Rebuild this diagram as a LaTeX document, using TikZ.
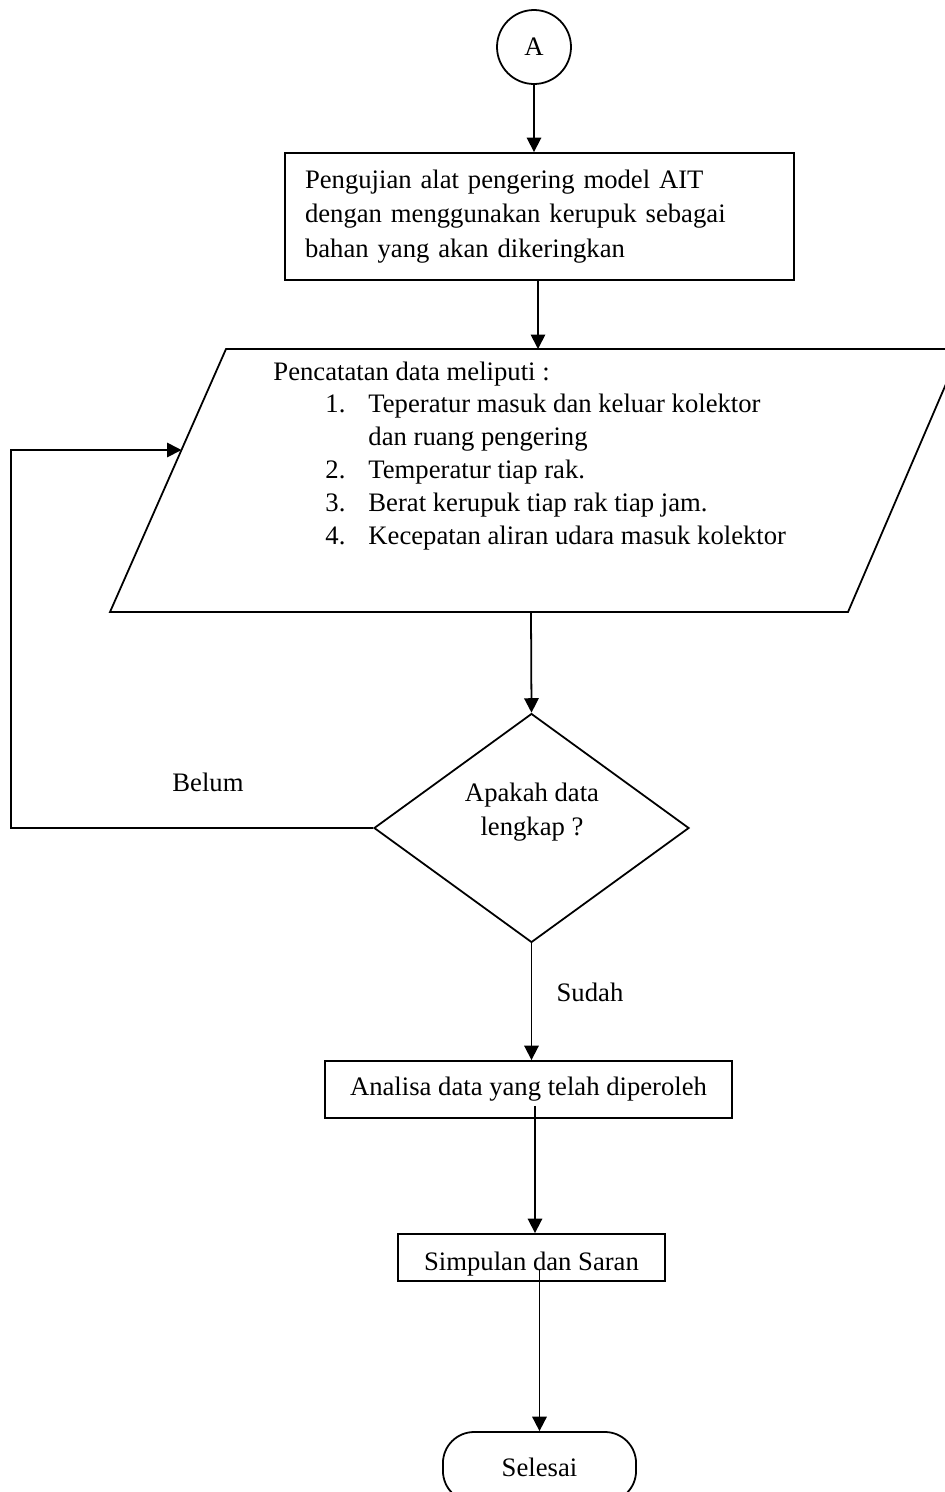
\documentclass[tikz,border=0pt]{standalone}
\usepackage{fontspec}
\setmainfont{Liberation Serif}
\usetikzlibrary{shapes.geometric, arrows.meta, calc, positioning}

\tikzset{
  flowline/.style={line width=0.8pt},
  flowarrow/.style={flowline, -{Triangle[length=6.5pt,width=6.5pt]}},
  prosesbox/.style={draw, line width=0.8pt, fill=white, rectangle, inner sep=0pt},
  listline/.style={anchor=west, inner sep=0pt, text height=8.5pt, text depth=2.5pt},
}

\begin{document}
\begin{tikzpicture}[x=0.45pt, y=-0.45pt, font=\fontsize{12}{15.5}\selectfont]
  % fixed frame of the page
  \path[use as bounding box] (0,0) rectangle (945,1492);

  % connector A
  \node[circle, draw, line width=0.8pt, minimum size=33.3pt, inner sep=0pt] (konektor) at (534,47) {A};

  % first process box
  \node[prosesbox, minimum width=229pt, minimum height=57.2pt, align=left, text width=211pt] (uji) at (539.5,216.5)
    {Pengujian alat pengering model AIT\\dengan menggunakan kerupuk sebagai\\bahan yang akan dikeringkan};

  % data input (parallelogram, right corner runs off the page)
  \draw[flowline] (226,349) -- (961,349) -- (848,612) -- (110,612) -- cycle;
  \coordinate (paratop) at (538,349);
  \coordinate (parabot) at (531,612);
  \coordinate (parakiri) at (181.5,450);
  \coordinate (lup) at (11,450);

  \node[listline] (judul) at (273,374) {Pencatatan data meliputi :};
  \foreach \nm/\yy/\no/\isi in {a/406/1./Teperatur masuk dan keluar kolektor,
      b/472/2./Temperatur tiap rak.,
      c/505/3./Berat kerupuk tiap rak tiap jam.,
      d/538/4./Kecepatan aliran udara masuk kolektor} {
    \node[listline] (no\nm) at (325,\yy) {\no};
    \node[listline] (isi\nm) at (368,\yy) {\isi};
  }
  \node[listline] (isia2) at (368,439) {dan ruang pengering};

  % decision
  \node[diamond, draw, line width=0.8pt, minimum width=141.75pt, minimum height=103pt, inner sep=0pt] (cek) at (531.5,828) {};
  \node[align=center, inner sep=0pt] (cektxt) at (532,812) {Apakah data\\lengkap ?};
  \node (belum) at (208,782) {Belum};
  \node (sudah) at (590,992) {Sudah};

  % analysis and conclusion
  \node[prosesbox, minimum width=183.2pt, minimum height=25.7pt] (analisa) at (528.5,1089.5) {Analisa data yang telah diperoleh};
  \node[prosesbox, minimum width=120.2pt, minimum height=21.2pt, text height=12pt, text depth=0pt] (simpulan) at (531.5,1257.5) {Simpulan dan Saran};

  % terminator
  \node[draw, line width=0.8pt, rounded corners=14pt, minimum width=86.9pt, minimum height=31.5pt] (selesai) at (539.5,1467) {Selesai};

  % connectors
  \draw[flowarrow] (konektor.south) -- (konektor.south |- uji.north);
  \draw[flowarrow] (uji.south -| paratop) -- (paratop);
  \draw[flowarrow] (parabot) -- (cek.north);
  \draw[flowarrow] (cek.west) -| (lup) -- (parakiri);
  \draw[flowarrow] (cek.south) -- (cek.south |- analisa.north);
  \draw[flowarrow] ($(analisa.south)+(6.5,-13)$) -- ($(analisa.south |- simpulan.north)+(6.5,0)$);
  \draw[flowarrow] ($(simpulan.south -| selesai.north)+(0,-13)$) -- (selesai.north);
\end{tikzpicture}
\end{document}
